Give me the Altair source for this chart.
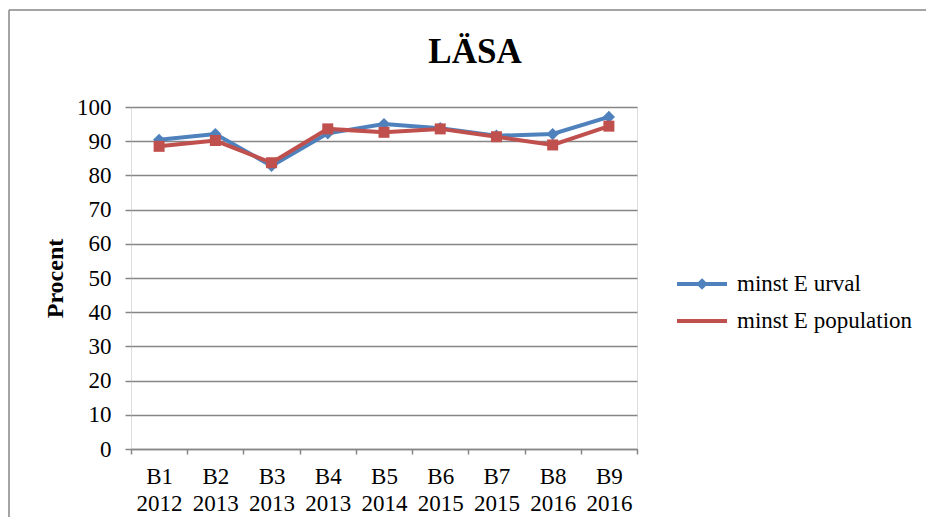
import altair as alt
import pandas as pd

# ---- data ----
categories = ["B1 2012", "B2 2013", "B3 2013", "B4 2013", "B5 2014",
              "B6 2015", "B7 2015", "B8 2016", "B9 2016"]
urval = [90.4, 92.1, 82.8, 92.3, 95.0, 93.8, 91.6, 92.1, 97.1]
population = [88.5, 90.2, 83.7, 93.6, 92.6, 93.6, 91.3, 88.9, 94.4]
series_names = ["minst E urval", "minst E population"]
y_ticks = [0, 10, 20, 30, 40, 50, 60, 70, 80, 90, 100]
title_text = ["LÄSA"]

df = pd.DataFrame({
    "cat": categories * 2,
    "series": [series_names[0]] * len(categories) + [series_names[1]] * len(categories),
    "value": urval + population,
})

FONT = "Liberation Serif"
BLUE = "#4F81BD"
RED = "#C0504D"
GRID = "#868686"

xenc = alt.X(
    "cat:N", sort=categories, bandPosition=0.5,
    scale=alt.Scale(type="band", paddingInner=0, paddingOuter=0),
    axis=alt.Axis(
        title=None, labelExpr="split(datum.label, ' ')", labelAngle=0,
        tickBand="extent", grid=False,
        domainColor=GRID, domainWidth=1.5, tickColor=GRID, tickWidth=1.5, tickSize=5,
        labelPadding=11, labelLineHeight=27, labelFont=FONT, labelFontSize=23,
        labelColor="black",
    ),
)
yenc = alt.Y(
    "value:Q", scale=alt.Scale(domain=[0, 100], nice=False),
    axis=alt.Axis(
        values=y_ticks, title="Procent", titleFont=FONT, titleFontSize=24,
        titleFontWeight="bold", titleColor="black", titleAngle=-90,
        titleX=-69, titleY=171, titleAlign="center", titleBaseline="alphabetic",
        domain=False, grid=True, gridColor=GRID, gridWidth=1.5,
        tickColor=GRID, tickWidth=1.5, tickSize=6,
        labelPadding=14, labelFont=FONT, labelFontSize=23, labelColor="black",
    ),
)

base = alt.Chart(df).encode(x=xenc, y=yenc)

blue_line = base.transform_filter(alt.datum.series == series_names[0]).mark_line(
    color=BLUE, strokeWidth=4)
blue_pts = base.transform_filter(alt.datum.series == series_names[0]).mark_point(
    shape="diamond", filled=True, size=150, color=BLUE, opacity=1)
red_line = base.transform_filter(alt.datum.series == series_names[1]).mark_line(
    color=RED, strokeWidth=4)
red_pts = base.transform_filter(alt.datum.series == series_names[1]).mark_point(
    shape="square", filled=True, size=121, color=RED, opacity=1)

path_line_diamond = "M-2.5,0H2.5M0,-0.3L0.3,0L0,0.3L-0.3,0Z"
path_line = "M-2.5,0H2.5"

leg = alt.Legend(
    title=None, orient="none", legendX=559, legendY=165,
    symbolSize=400, symbolStrokeWidth=4, labelOffset=23, labelLimit=400,
    labelFont=FONT, labelFontSize=23, labelColor="black", rowPadding=13,
)
legend_layer = alt.Chart(df).transform_filter("false").mark_point(
    strokeWidth=4, filled=False, opacity=1).encode(
    shape=alt.Shape("series:N", scale=alt.Scale(domain=series_names,
                    range=[path_line_diamond, path_line]), legend=leg),
    stroke=alt.Stroke("series:N", scale=alt.Scale(domain=series_names,
                      range=[BLUE, RED]), legend=leg),
)

frame_data = alt.Data(values=[{"k": 1}])
border_left = alt.Chart(frame_data).mark_rule(color=GRID, strokeWidth=1.5).encode(
    x=alt.value(-122), y=alt.value(-97), y2=alt.value(416))
border_top = alt.Chart(frame_data).mark_rule(color=GRID, strokeWidth=1.5).encode(
    x=alt.value(-122), x2=alt.value(795), y=alt.value(-97))

title_layer = alt.Chart(pd.DataFrame({"t": title_text})).mark_text(
    font=FONT, fontSize=35, fontWeight="bold", color="black",
    align="center", baseline="alphabetic").encode(
    text="t:N", x=alt.value(344), y=alt.value(-44))

chart = alt.layer(
    border_left, border_top, title_layer,
    blue_line, blue_pts, red_line, red_pts, legend_layer
).properties(
    width=506, height=342,
    autosize=alt.AutoSizeParams(type="none"),
    padding={"left": 123, "top": 99, "right": 289, "bottom": 68},
).configure_view(stroke=None).configure(background="white")

chart.save("out.html", embed_options={"renderer": "svg", "actions": False})
